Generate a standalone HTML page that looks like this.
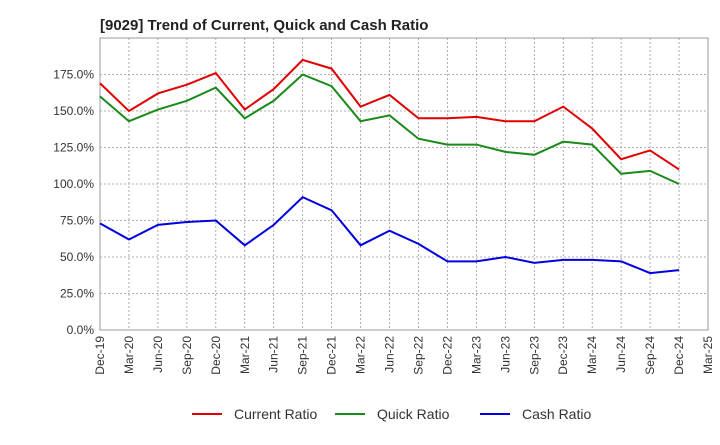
<!DOCTYPE html>
<html><head><meta charset="utf-8"><style>
body{margin:0;background:#fff;font-family:"Liberation Sans",sans-serif}
</style></head><body>
<svg width="720" height="440" xmlns="http://www.w3.org/2000/svg">
<text x="100" y="30" font-size="15" font-weight="bold" fill="#222">[9029]  Trend of Current, Quick and Cash Ratio</text>
<g id="grid"></g><g id="axes"></g><g id="series"></g>
<g id="legend"></g>
</svg>
<script>
const categories=["Dec-19","Mar-20","Jun-20","Sep-20","Dec-20","Mar-21","Jun-21","Sep-21","Dec-21","Mar-22","Jun-22","Sep-22","Dec-22","Mar-23","Jun-23","Sep-23","Dec-23","Mar-24","Jun-24","Sep-24","Dec-24","Mar-25"];
const currentRatio=[169,150,162,168,176,151,165,185,179,153,161,145,145,146,143,143,153,138,117,123,110];
const quickRatio=[160,143,151,157,166,145,157,175,167,143,147,131,127,127,122,120,129,127,107,109,100];
const cashRatio=[73,62,72,74,75,58,72,91,82,58,68,59,47,47,50,46,48,48,47,39,41];
const yTicks=[0,25,50,75,100,125,150,175];
const ns="http://www.w3.org/2000/svg";
const L=100,R=708,T=38,B=330,YMAX=200;
const x=i=>L+i*(R-L)/(categories.length-1);
const y=v=>B-v*(B-T)/YMAX;
function mk(tag,a,parent){const e=document.createElementNS(ns,tag);for(const k in a)e.setAttribute(k,a[k]);document.getElementById(parent).appendChild(e);return e;}
const bg=mk("rect",{x:L,y:T,width:R-L,height:B-T,fill:"#fff",stroke:"#999"},"grid");


categories.forEach((c,i)=>{
 const g=mk("line",{x1:x(i),x2:x(i),y1:T,y2:B,stroke:"#999","stroke-dasharray":"2,2","stroke-width":0.8},"grid");
 
 
 const t=mk("text",{x:0,y:0,"font-size":12,fill:"#333","text-anchor":"end",transform:`translate(${x(i)+4},${B+6}) rotate(-90)`},"axes");
 t.textContent=c;
 
 
});
yTicks.forEach(v=>{
 const g=mk("line",{x1:L,x2:R,y1:y(v),y2:y(v),stroke:"#999","stroke-dasharray":"2,2","stroke-width":0.8},"grid");
 
 
 const t=mk("text",{x:L-6,y:y(v)+4,"font-size":12,fill:"#333","text-anchor":"end"},"axes");
 t.textContent=v.toFixed(1)+"%";
 
 
});
const series=[["Current Ratio",currentRatio,"#e00000"],["Quick Ratio",quickRatio,"#1a8a1a"],["Cash Ratio",cashRatio,"#0000e0"]];
series.forEach(([n,d,c],k)=>{
 const p=mk("polyline",{points:d.map((v,i)=>x(i)+","+y(v)).join(" "),fill:"none",stroke:c,"stroke-width":2},"series");
 
 
 const lx=[192,335,480][k];
 const ll=mk("line",{x1:lx,x2:lx+30,y1:414,y2:414,stroke:c,"stroke-width":2},"legend");
 
 
 const lt=mk("text",{x:lx+42,y:419,"font-size":14,fill:"#333"},"legend");
 lt.textContent=n;
 
 
});
</script>
</body></html>
